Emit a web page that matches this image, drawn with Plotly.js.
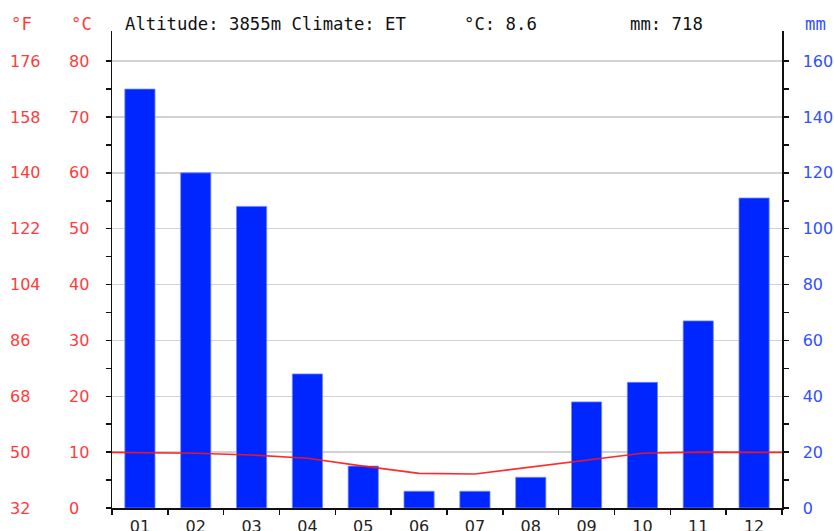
<!DOCTYPE html>
<html>
<head>
<meta charset="utf-8">
<script src="https://cdn.plot.ly/plotly-3.0.1.min.js"></script>
<style>html,body{margin:0;padding:0;background:#fff;}#chart{width:834px;height:531px;}</style>
</head>
<body>
<div id="chart"></div>
<script>
// ---- data ----
const months = ['01','02','03','04','05','06','07','08','09','10','11','12'];
const precipMM = [150, 120, 108, 48, 15, 6, 6, 11, 38, 45, 67, 111];
const tempC = [9.9, 9.8, 9.5, 8.9, 7.5, 6.2, 6.1, 7.3, 8.5, 9.8, 10.0, 10.0];
const cTicks = [0, 10, 20, 30, 40, 50, 60, 70, 80];
const mmTicks = [0, 20, 40, 60, 80, 100, 120, 140, 160];
const altitude = '3855m';
const climate = 'ET';
const meanTemp = '8.6';
const annualPrecip = '718';

// ---- derived ----
const fTicks = cTicks.map(c => Math.round(c * 1.8 + 32));
const cMinor = cTicks.slice(0, -1).map(c => c + 5);
const mmMinor = mmTicks.slice(0, -1).map(m => m + 10);
const monthX = months.map((m, i) => i + 1);
const boundaries = [0.5].concat(monthX.map(x => x + 0.5));
const edge = (tempC[0] + tempC[tempC.length - 1]) / 2;
const lineX = [0.5].concat(monthX, [months.length + 0.5]);
const lineY = [edge].concat(tempC, [edge]);

const cMax = 85.4;
const RED = '#ff3b3b';
const BLUE = '#3050ff';
const tickFont = {family: 'DejaVu Sans', size: 16};
const monoFont = {family: 'DejaVu Sans Mono', size: 17.3, color: '#111'};

const traces = [
  {type: 'bar', x: monthX, y: precipMM, xaxis: 'x', yaxis: 'y', width: 0.54,
   marker: {color: '#0026ff', line: {color: '#7088ff', width: 0.8}}, hoverinfo: 'skip', showlegend: false},
  {type: 'scatter', mode: 'lines', x: lineX, y: lineY, xaxis: 'x', yaxis: 'y2',
   line: {color: 'rgba(255,20,20,0.9)', width: 1.6}, hoverinfo: 'skip', showlegend: false},
  {type: 'scatter', mode: 'none', x: [1], y: [cTicks[0]], xaxis: 'x', yaxis: 'y3', hoverinfo: 'skip', showlegend: false},
  {type: 'scatter', mode: 'none', x: [1], y: [fTicks[0]], xaxis: 'x', yaxis: 'y4', hoverinfo: 'skip', showlegend: false}
];

function header(x, text, color) {
  return {xref: 'paper', yref: 'paper', x: x / 834, y: 1, yshift: 7, xanchor: 'left', yanchor: 'middle',
          showarrow: false, text: text, font: Object.assign({}, monoFont, color ? {color: color} : {})};
}

const layout = {
  width: 834, height: 531,
  margin: {l: 0, r: 0, t: 31, b: 23, pad: 0},
  paper_bgcolor: '#fff', plot_bgcolor: '#fff',
  showlegend: false,
  xaxis: {
    domain: [112/834, 782/834], range: [0.5, months.length + 0.5], fixedrange: true,
    showline: true, linecolor: '#111', linewidth: 1.5, zeroline: false, showgrid: false,
    tickmode: 'array', tickvals: monthX, ticktext: months, ticks: '',
    tickfont: Object.assign({color: '#222'}, tickFont), ticklabelstandoff: 3,
    minor: {tickmode: 'array', tickvals: boundaries, ticks: 'outside', ticklen: 5, tickcolor: '#111', tickwidth: 1.5, showgrid: false}
  },
  yaxis: {
    side: 'right', anchor: 'x', range: [0, cMax * 2], fixedrange: true,
    showline: true, linecolor: '#111', linewidth: 1.5, zeroline: false,
    showgrid: true, gridcolor: '#d2d2d2', gridwidth: 1.5,
    tickmode: 'array', tickvals: mmTicks, ticks: 'outside', ticklen: 5, tickcolor: '#111', tickwidth: 1.5,
    tickfont: Object.assign({color: BLUE}, tickFont), ticklabelstandoff: 11,
    minor: {tickmode: 'array', tickvals: mmMinor, ticks: 'outside', ticklen: 5, tickcolor: '#111', tickwidth: 1.5, showgrid: false}
  },
  yaxis2: {
    overlaying: 'y', side: 'left', anchor: 'x', range: [0, cMax], fixedrange: true,
    showline: true, linecolor: '#111', linewidth: 1.5, zeroline: false, showgrid: false,
    tickmode: 'array', tickvals: cTicks, ticks: 'outside', ticklen: 5, tickcolor: '#111', tickwidth: 1.5,
    showticklabels: false,
    minor: {tickmode: 'array', tickvals: cMinor, ticks: 'outside', ticklen: 5, tickcolor: '#111', tickwidth: 1.5, showgrid: false}
  },
  yaxis3: {
    overlaying: 'y', anchor: 'free', position: 68/834, side: 'right', range: [0, cMax], fixedrange: true,
    showline: false, zeroline: false, showgrid: false, ticks: '',
    tickmode: 'array', tickvals: cTicks, tickfont: Object.assign({color: RED}, tickFont)
  },
  yaxis4: {
    overlaying: 'y', anchor: 'free', position: 9/834, side: 'right', range: [32, cMax * 1.8 + 32], fixedrange: true,
    showline: false, zeroline: false, showgrid: false, ticks: '',
    tickmode: 'array', tickvals: fTicks, tickfont: Object.assign({color: RED}, tickFont)
  },
  annotations: [
    header(9, '°F', RED),
    header(69, '°C', RED),
    header(123, 'Altitude: ' + altitude + ' Climate: ' + climate),
    header(462, '°C: ' + meanTemp),
    header(628, 'mm: ' + annualPrecip),
    header(803, 'mm', BLUE)
  ]
};

Plotly.newPlot('chart', traces, layout, {staticPlot: true, displayModeBar: false});
</script>
</body>
</html>
